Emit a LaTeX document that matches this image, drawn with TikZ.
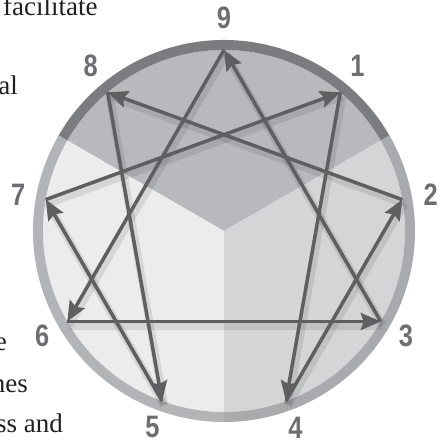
\documentclass[tikz,border=0pt]{standalone}
\usepackage{fontspec}
\setmainfont{Liberation Serif}
\newfontfamily\numfont[FakeStretch=0.82]{Liberation Sans Bold}
\usetikzlibrary{arrows.meta}
\definecolor{ringdark}{HTML}{7B7C80}
\definecolor{ringleft}{HTML}{B3B4B7}
\definecolor{ringright}{HTML}{A9AAAD}
\definecolor{sectop}{HTML}{B8B9BC}
\definecolor{secleft}{HTML}{ECECEC}
\definecolor{secright}{HTML}{D4D5D7}
\definecolor{linegray}{HTML}{5F5E61}
\definecolor{numgray}{HTML}{6D6E72}
\definecolor{inkblack}{HTML}{231F20}

\begin{document}
\begin{tikzpicture}[
    x=1pt, y=1pt,
    num/.style={font=\numfont\fontsize{31}{31}\selectfont,
      text=numgray, inner sep=0pt},
    frag/.style={font=\fontsize{27}{27}\selectfont, text=inkblack, inner sep=0pt},
    ring/.style={line width=10pt},
    arr/.style={-{Stealth[length=20pt, width=17pt, inset=3pt]},
      line width=3.5pt, draw=linegray},
    arrshadow/.style={line width=8pt, draw=black, opacity=0.09,
      transform canvas={shift={(2pt,-4pt)}}}]
    \useasboundingbox (-224,-211) rectangle (219,231);

    % clipped paragraph text on the left
    \node[frag, anchor=base west] (t1) at (-221,215)  {facilitate};
    \node[frag, anchor=base east] (t2) at (-206,136)  {al};
    \node[frag, anchor=base east] (t3) at (-217,-119) {e};
    \node[frag, anchor=base east] (t4) at (-196,-161) {nes};
    \node[frag, anchor=base east] (t5) at (-161,-201) {ss and};

    % three sectors
    \fill[sectop]   (0,0) -- (30:181)  arc[start angle=30,  end angle=150, radius=181pt] -- cycle;
    \fill[secleft]  (0,0) -- (150:181) arc[start angle=150, end angle=270, radius=181pt] -- cycle;
    \fill[secright] (0,0) -- (270:181) arc[start angle=270, end angle=390, radius=181pt] -- cycle;

    % outer ring
    \draw[ring, ringdark]  (30:186)  arc[start angle=30,  end angle=150, radius=186pt];
    \draw[ring, ringleft]  (150:186) arc[start angle=150, end angle=270, radius=186pt];
    \draw[ring, ringright] (270:186) arc[start angle=270, end angle=390, radius=186pt];

    % points on the circle
    \coordinate (p9) at (90:181);
    \coordinate (p1) at (50:181);
    \coordinate (p2) at (10:181);
    \coordinate (p3) at (-30:181);
    \coordinate (p4) at (-70:181);
    \coordinate (p5) at (-110:181);
    \coordinate (p6) at (-150:181);
    \coordinate (p7) at (170:181);
    \coordinate (p8) at (130:181);

    % labels
    \node[num] (l9) at (90:213)   {9};
    \node[num] (l1) at (51:212)   {1};
    \node[num] (l2) at (10:210)   {2};
    \node[num] (l3) at (-30:210)  {3};
    \node[num] (l4) at (-70:209)  {4};
    \node[num] (l5) at (-110:209) {5};
    \node[num] (l6) at (-150:210) {6};
    \node[num] (l7) at (170:209)  {7};
    \node[num] (l8) at (129:212)  {8};

    % soft shadows
    \draw[arrshadow] (p9) -- (p6);
    \draw[arrshadow] (p6) -- (p3);
    \draw[arrshadow] (p3) -- (p9);
    \draw[arrshadow] (p1) -- (p4);
    \draw[arrshadow] (p4) -- (p2);
    \draw[arrshadow] (p2) -- (p8);
    \draw[arrshadow] (p8) -- (p5);
    \draw[arrshadow] (p5) -- (p7);
    \draw[arrshadow] (p7) -- (p1);

    % triangle and hexad
    \draw[arr] (p9) -- (p6);
    \draw[arr] (p6) -- (p3);
    \draw[arr] (p3) -- (p9);
    \draw[arr] (p1) -- (p4);
    \draw[arr] (p4) -- (p2);
    \draw[arr] (p2) -- (p8);
    \draw[arr] (p8) -- (p5);
    \draw[arr] (p5) -- (p7);
    \draw[arr] (p7) -- (p1);
  \end{tikzpicture}
\end{document}
